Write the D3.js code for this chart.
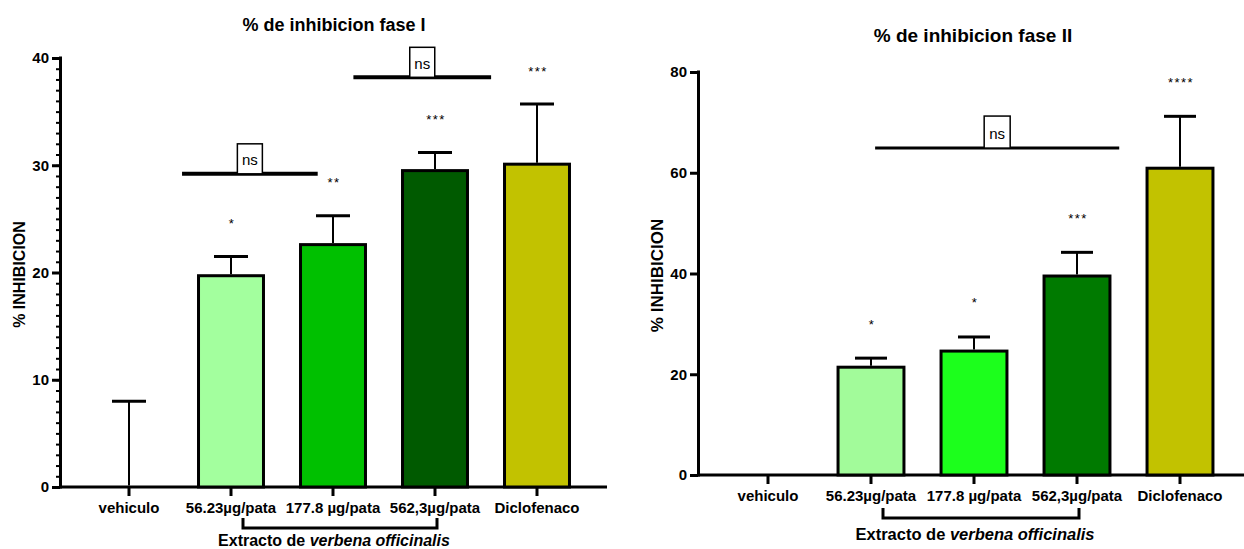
<!DOCTYPE html>
<html><head><meta charset="utf-8">
<script src="https://cdn.jsdelivr.net/npm/d3@7"></script>
<style>
body{margin:0;background:#fff}
svg text{font-family:"Liberation Sans",Arial,Helvetica,sans-serif}
</style>
</head><body>
<svg id="c" width="1244" height="549"></svg>
<script>
// ---- data ----
const categories = ["vehiculo", "56.23µg/pata", "177.8 µg/pata", "562,3µg/pata", "Diclofenaco"];

const faseITitle = "% de inhibicion fase I";
const faseIMeans = [0, 19.7, 22.6, 29.5, 30.1];
const faseIErr   = [8.0, 1.8, 2.7, 1.7, 5.6];
const faseISig   = ["", "*", "**", "***", "***"];
const faseITicks = [0, 10, 20, 30, 40];
const faseIMinorTicks = d3.range(0, 41, 1);
const faseIColors = ["#ffffff", "#a3ff9e", "#00c000", "#005a00", "#c2c200"];
const faseINsFrom = [0.52, 2.2];
const faseINsTo   = [1.85, 3.55];
const faseINsAt   = [29.2, 38.2];

const faseIITitle = "% de inhibicion fase II";
const faseIIMeans = [0, 21.4, 24.6, 39.5, 60.9];
const faseIIErr   = [0, 1.8, 2.8, 4.7, 10.3];
const faseIISig   = ["", "*", "*", "***", "****"];
const faseIITicks = [0, 20, 40, 60, 80];
const faseIIColors = ["#ffffff", "#a2fb9a", "#1cff1c", "#007a00", "#c2c200"];
const faseIINsFrom = [1.04];
const faseIINsTo   = [3.41];
const faseIINsAt   = [64.9];

const yLabel = "% INHIBICION";
const groupLabelPlain = "Extracto de ";
const groupLabelItalic = "verbena officinalis";

// ---- drawing ----
const svg = d3.select("#c");

function panel(o) {
  const g = svg.append("g");
  const x = d3.scaleBand().domain(categories).range(o.xRange)
    .paddingInner(o.padIn).paddingOuter(o.padIn / 2);
  const y = d3.scaleLinear().domain([0, d3.max(o.ticks)]).range(o.yRange);
  const bw = x.bandwidth();
  const cx = c => x(c) + bw / 2;
  const xi = d3.scaleLinear().domain([0, categories.length - 1])
    .range([cx(categories[0]), cx(categories[categories.length - 1])]);

  // title
  g.append("text").attr("x", o.titleX).attr("y", o.titleY)
    .attr("text-anchor", "middle").attr("font-weight", "bold")
    .attr("font-size", o.titleSize).text(o.title);

  // y label
  g.append("text")
    .attr("transform", `translate(${o.yLabelX},${(o.yRange[0] + o.yRange[1]) / 2 + 2}) rotate(-90)`)
    .attr("text-anchor", "middle").attr("dominant-baseline", "central")
    .attr("font-weight", "bold").attr("font-size", o.yLabelSize).text(yLabel);

  // minor ticks
  if (o.minor) {
    const mg = g.append("g").attr("transform", `translate(${o.axisX},0)`)
      .call(d3.axisLeft(y).tickValues(o.minor).tickSize(4).tickSizeOuter(0).tickFormat(""));
    mg.select(".domain").remove();
    mg.selectAll("line").attr("stroke", "#000").attr("stroke-width", 2);
  }
  // y axis
  const ya = g.append("g").attr("transform", `translate(${o.axisX},0)`)
    .call(d3.axisLeft(y).tickValues(o.ticks).tickSize(o.majorTick).tickSizeOuter(0).tickPadding(3));
  ya.select(".domain").attr("stroke", "#000").attr("stroke-width", 3)
    .attr("d", `M0.5,${y(0) + 1.5}V${y(d3.max(o.ticks)) - 1.5}`);
  ya.selectAll(".tick line").attr("stroke", "#000").attr("stroke-width", 3);
  ya.selectAll(".tick text").attr("font-size", o.tickSize).attr("font-weight", "bold")
    .attr("fill", "#000").style("font-family", "'Liberation Sans',Arial,sans-serif");

  // x axis
  const xa = g.append("g").attr("transform", `translate(0,${y(0)})`)
    .call(d3.axisBottom(x).tickSize(o.xTick).tickSizeOuter(0).tickPadding(o.xPad));
  xa.select(".domain").remove();
  xa.selectAll(".tick line").attr("stroke", "#000").attr("stroke-width", 3);
  xa.selectAll(".tick text").attr("font-size", o.catSize).attr("font-weight", "bold")
    .attr("fill", "#000").style("font-family", "'Liberation Sans',Arial,sans-serif");
  g.append("line").attr("x1", o.axisX - 1).attr("x2", o.xEnd)
    .attr("y1", y(0)).attr("y2", y(0)).attr("stroke", "#000").attr("stroke-width", 3);

  // bars
  g.selectAll("rect.bar").data(categories.map((c, i) => ({c, v: o.means[i], col: o.colors[i]})).filter(d => d.v > 0))
    .join("rect").attr("class", "bar")
    .attr("x", d => x(d.c)).attr("width", bw)
    .attr("y", d => y(d.v)).attr("height", d => y(0) - y(d.v))
    .attr("fill", d => d.col).attr("stroke", "#000").attr("stroke-width", 3);

  // error bars
  categories.forEach((c, i) => {
    const e = o.err[i];
    if (e <= 0) return;
    const top = y(o.means[i] + e);
    g.append("line").attr("x1", cx(c)).attr("x2", cx(c))
      .attr("y1", y(o.means[i]) - 1.5).attr("y2", top)
      .attr("stroke", "#000").attr("stroke-width", 2);
    g.append("line").attr("x1", cx(c) - o.capW / 2).attr("x2", cx(c) + o.capW / 2)
      .attr("y1", top).attr("y2", top).attr("stroke", "#000").attr("stroke-width", 3);
  });

  // significance stars
  categories.forEach((c, i) => {
    if (!o.sig[i]) return;
    g.append("text").attr("x", cx(c) + 1).attr("y", y(o.means[i] + o.err[i]) - o.starOff)
      .attr("text-anchor", "middle").attr("font-size", 13).attr("letter-spacing", 1.5)
      .attr("dominant-baseline", "central").text(o.sig[i]);
  });

  // ns comparisons
  o.nsFrom.forEach((f, k) => {
    const x1 = xi(f), x2 = xi(o.nsTo[k]), yy = y(o.nsAt[k]);
    g.append("line").attr("x1", x1).attr("x2", x2).attr("y1", yy).attr("y2", yy)
      .attr("stroke", "#000").attr("stroke-width", o.nsStroke);
    const mx = (x1 + x2) / 2;
    g.append("rect").attr("x", mx - o.nsBoxW / 2).attr("y", yy - o.nsBoxH)
      .attr("width", o.nsBoxW).attr("height", o.nsBoxH)
      .attr("fill", "#fff").attr("stroke", "#000").attr("stroke-width", 1.5);
    g.append("text").attr("x", mx).attr("y", yy - o.nsBoxH / 2 + 1)
      .attr("text-anchor", "middle").attr("dominant-baseline", "central")
      .attr("font-size", 15).text("ns");
  });

  // bracket for extract group
  const bx1 = xi(1) + 12, bx2 = xi(3) + 2;
  g.append("path")
    .attr("d", `M${bx1},${o.bracketY - 10}V${o.bracketY}H${bx2}V${o.bracketY - 10}`)
    .attr("fill", "none").attr("stroke", "#000").attr("stroke-width", 3);
  const t = g.append("text").attr("x", (bx1 + bx2) / 2 - 6).attr("y", o.groupY)
    .attr("text-anchor", "middle").attr("font-weight", "bold").attr("font-size", o.groupSize);
  t.append("tspan").text(groupLabelPlain);
  t.append("tspan").attr("font-style", "italic").text(groupLabelItalic);
}

panel({
  title: faseITitle, titleX: 334, titleY: 31, titleSize: 18,
  means: faseIMeans, err: faseIErr, sig: faseISig, colors: faseIColors,
  ticks: faseITicks, minor: faseIMinorTicks,
  xRange: [78, 588], padIn: 0.363, yRange: [487, 58],
  axisX: 60, xEnd: 607, majorTick: 8, xTick: 9, xPad: 6,
  yLabelX: 19, yLabelSize: 16, tickSize: 15, catSize: 15,
  capW: 34, starOff: 33,
  nsFrom: faseINsFrom, nsTo: faseINsTo, nsAt: faseINsAt, nsStroke: 4, nsBoxW: 25, nsBoxH: 30,
  bracketY: 528, groupY: 546, groupSize: 16
});

panel({
  title: faseIITitle, titleX: 973, titleY: 42, titleSize: 19,
  means: faseIIMeans, err: faseIIErr, sig: faseIISig, colors: faseIIColors,
  ticks: faseIITicks, minor: null,
  xRange: [716.5, 1231.5], padIn: 0.36, yRange: [475, 72],
  axisX: 698, xEnd: 1244, majorTick: 8, xTick: 9, xPad: 6,
  yLabelX: 657, yLabelSize: 17, tickSize: 15, catSize: 15,
  capW: 32, starOff: 34,
  nsFrom: faseIINsFrom, nsTo: faseIINsTo, nsAt: faseIINsAt, nsStroke: 3, nsBoxW: 26, nsBoxH: 32,
  bracketY: 518, groupY: 540, groupSize: 16.5
});
</script>
</body></html>
